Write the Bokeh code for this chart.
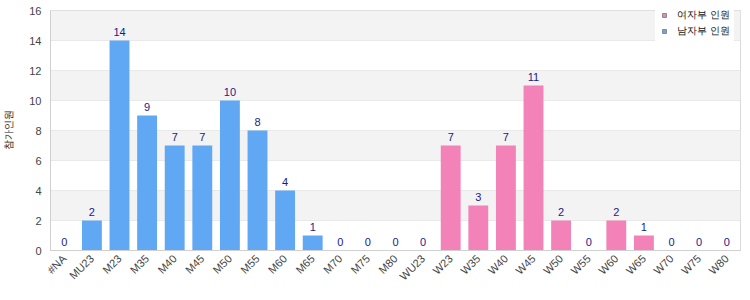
from bokeh.plotting import figure
from bokeh.models import ColumnDataSource, Legend, LegendItem, BoxAnnotation, Range1d
from bokeh.core.properties import value
from bokeh.embed import file_html
from bokeh.resources import INLINE
import math

categories = ["#NA", "MU23", "M23", "M35", "M40", "M45", "M50", "M55", "M60", "M65",
              "M70", "M75", "M80", "WU23", "W23", "W35", "W40", "W45", "W50", "W55",
              "W60", "W65", "W70", "W75", "W80"]
counts = [0, 2, 14, 9, 7, 7, 10, 8, 4, 1, 0, 0, 0, 0, 7, 3, 7, 11, 2, 0, 2, 1, 0, 0, 0]
groups = ["M"] * 13 + ["W"] * 12
series_names = {"W": "여자부 인원", "M": "남자부 인원"}
y_title = "참가인원"

blue = "#60a8f4"
pink = "#f282b8"
font = "Liberation Sans"

p = figure(x_range=categories, y_range=Range1d(0, 16), width=750, height=300,
           output_backend="svg", toolbar_location=None,
           min_border_left=0, min_border_right=10, min_border_top=10, min_border_bottom=50)
p.outline_line_color = "#d9d9d9"
p.background_fill_color = "white"

for lo in (2, 6, 10, 14):
    p.add_layout(BoxAnnotation(bottom=lo, top=lo + 2, fill_color="#f3f3f3", fill_alpha=1, line_alpha=0, level="underlay"))

p.ygrid.grid_line_color = "#dedede"
p.xgrid.grid_line_color = None
p.yaxis.ticker = list(range(0, 17, 2))

for ax in (p.xaxis[0], p.yaxis[0]):
    ax.axis_line_color = "#d0d0d0"
    ax.major_tick_line_color = None
    ax.minor_tick_line_color = None
    ax.major_label_text_color = "#444444"
    ax.major_label_text_font = font
    ax.major_label_text_font_size = "11px"
    ax.major_label_standoff = 6
    ax.major_tick_out = 0
    ax.major_tick_in = 0
p.xaxis.major_label_orientation = math.pi / 4
p.yaxis.major_label_standoff = 9
p.yaxis.axis_label = y_title
p.yaxis.axis_label_text_font_style = "normal"
p.yaxis.axis_label_text_font_size = "10px"
p.yaxis.axis_label_text_color = "#222222"
p.yaxis.axis_label_standoff = 12

renderers = {}
for g, col in (("M", blue), ("W", pink)):
    idx = [i for i, gg in enumerate(groups) if gg == g]
    src = ColumnDataSource(dict(x=[categories[i] for i in idx], y=[counts[i] for i in idx],
                                lbl=[str(counts[i]) for i in idx]))
    p.vbar(x="x", top="y", width=0.72, source=src, fill_color=col, line_color=None)
    p.text(x="x", y="y", text="lbl", source=src, text_align="center", text_baseline="bottom",
           y_offset=-5, text_font=value(font), text_font_size="11px", text_color="#1a1a8c")
    renderers[g] = p.scatter(x=[categories[0]], y=[-100], marker="square", size=9,
                             fill_color=col, line_color="#8a8a8a", line_width=1)

legend = Legend(items=[LegendItem(label=series_names["W"], renderers=[renderers["W"]]),
                       LegendItem(label=series_names["M"], renderers=[renderers["M"]])],
                location=(605, 208), border_line_alpha=0, background_fill_color="white",
                background_fill_alpha=1, level="overlay",
                label_text_font_size="10px", label_text_color="#111111",
                label_height=12, glyph_width=10, glyph_height=12, spacing=2, padding=4, margin=0,
                label_standoff=8)
p.add_layout(legend)

open("out.html", "w").write(file_html(p, INLINE))
